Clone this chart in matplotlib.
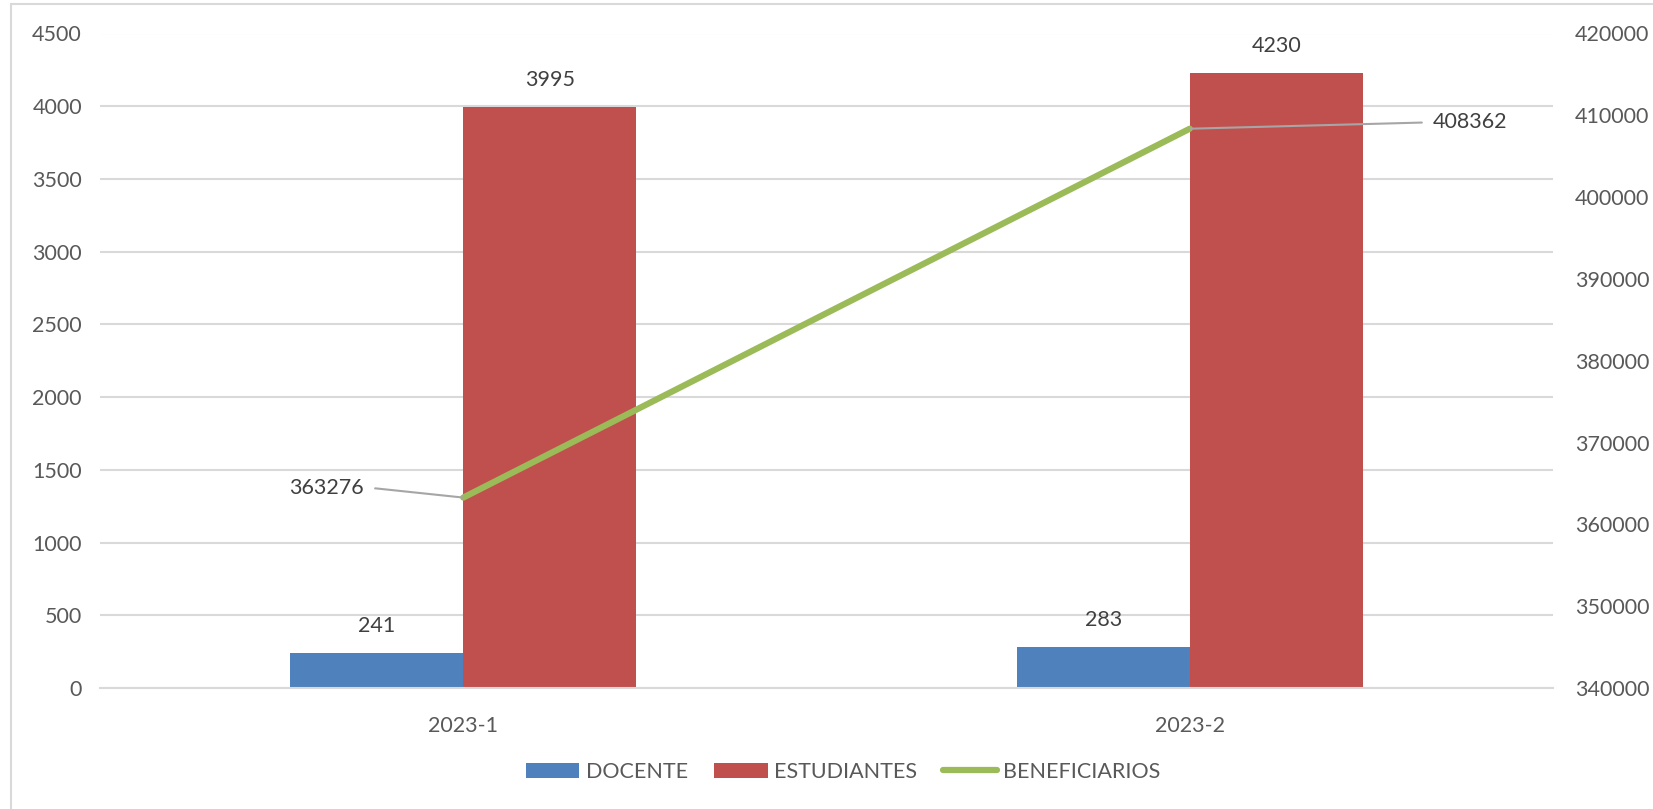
import numpy as np
import matplotlib.pyplot as plt
from matplotlib.patches import Rectangle

plt.rcParams['font.family'] = ['Lato', 'DejaVu Sans']

periodos = ['2023-1', '2023-2']
docente = [241, 283]
estudiantes = [3995, 4230]
beneficiarios = [363276, 408362]

c_txt = '#595959'
c_grid = '#D9D9D9'

fig = plt.figure(figsize=(16.53, 8.09), dpi=100)
# marco exterior
fig.patches.append(Rectangle((11/1653, -0.1), 1.2, 1 - 4/809 + 0.1, transform=fig.transFigure,
                             fill=False, edgecolor=c_grid, lw=1.5))

ax = fig.add_axes([100/1653, 1 - 688/809, 1453/1653, (688 - 33.5)/809])
x = np.arange(len(periodos))
w = 0.238
b1 = ax.bar(x - w/2, docente, w, color='#4F81BD', label='DOCENTE', zorder=2)
b2 = ax.bar(x + w/2, estudiantes, w, color='#C0504D', label='ESTUDIANTES', zorder=2)
for bars in (b1, b2):
    for r in bars:
        ax.annotate(str(int(r.get_height())), (r.get_x() + r.get_width()/2, r.get_height()),
                    xytext=(0, 12), textcoords='offset points', ha='center', va='bottom',
                    fontsize=15.5, color='#404040')

ax.set_xlim(-0.5, 1.5)
ax.set_ylim(0, 4500)
ax.set_yticks(np.arange(0, 4501, 500))
ax.set_xticks(x)
ax.set_xticklabels(periodos)
ax.yaxis.grid(True, color=c_grid, lw=1.5, zorder=0)
ax.set_axisbelow(True)
for s in ax.spines.values():
    s.set_visible(False)
ax.spines['bottom'].set_visible(True)
ax.spines['bottom'].set_color(c_grid)
ax.spines['bottom'].set_linewidth(1.5)
ax.tick_params(axis='both', length=0, labelsize=15.5, colors=c_txt)
ax.tick_params(axis='y', pad=13)
ax.tick_params(axis='x', pad=20)

ax2 = ax.twinx()
ln, = ax2.plot(x, beneficiarios, color='#9BBB59', lw=4.5, label='BENEFICIARIOS',
               solid_capstyle='round', zorder=3)
ax2.set_ylim(340000, 420000)
ax2.set_yticks(np.arange(340000, 420001, 10000))
for s in ax2.spines.values():
    s.set_visible(False)
ax2.tick_params(axis='y', length=0, labelsize=15.5, colors=c_txt, pad=16)

# etiquetas de la linea con guias
ax2.annotate(str(beneficiarios[0]), (x[0], beneficiarios[0]), xytext=(-0.188, 364400),
             textcoords='data', ha='center', va='center', fontsize=15.5, color='#404040',
             arrowprops=dict(arrowstyle='-', color='#A6A6A6', lw=1.5, relpos=(1, 0.5),
                             shrinkA=6, shrinkB=0,
                             connectionstyle='angle,angleA=0,angleB=174,rad=0'))
ax2.annotate(str(beneficiarios[1]), (x[1], beneficiarios[1]), xytext=(1.386, 409150),
             textcoords='data', ha='center', va='center', fontsize=15.5, color='#404040',
             arrowprops=dict(arrowstyle='-', color='#A6A6A6', lw=1.5, relpos=(0, 0.5),
                             shrinkA=6, shrinkB=0))

h = [b1, b2, ln]
fig.legend(h, [a.get_label() for a in h], loc='center', bbox_to_anchor=(843/1653, 1 - 772/809),
           ncol=3, frameon=False, fontsize=15.5, labelcolor=c_txt, handlelength=2.5,
           handleheight=0.7, columnspacing=1.2, handletextpad=0.3)

fig.savefig('out.png', dpi=100)
